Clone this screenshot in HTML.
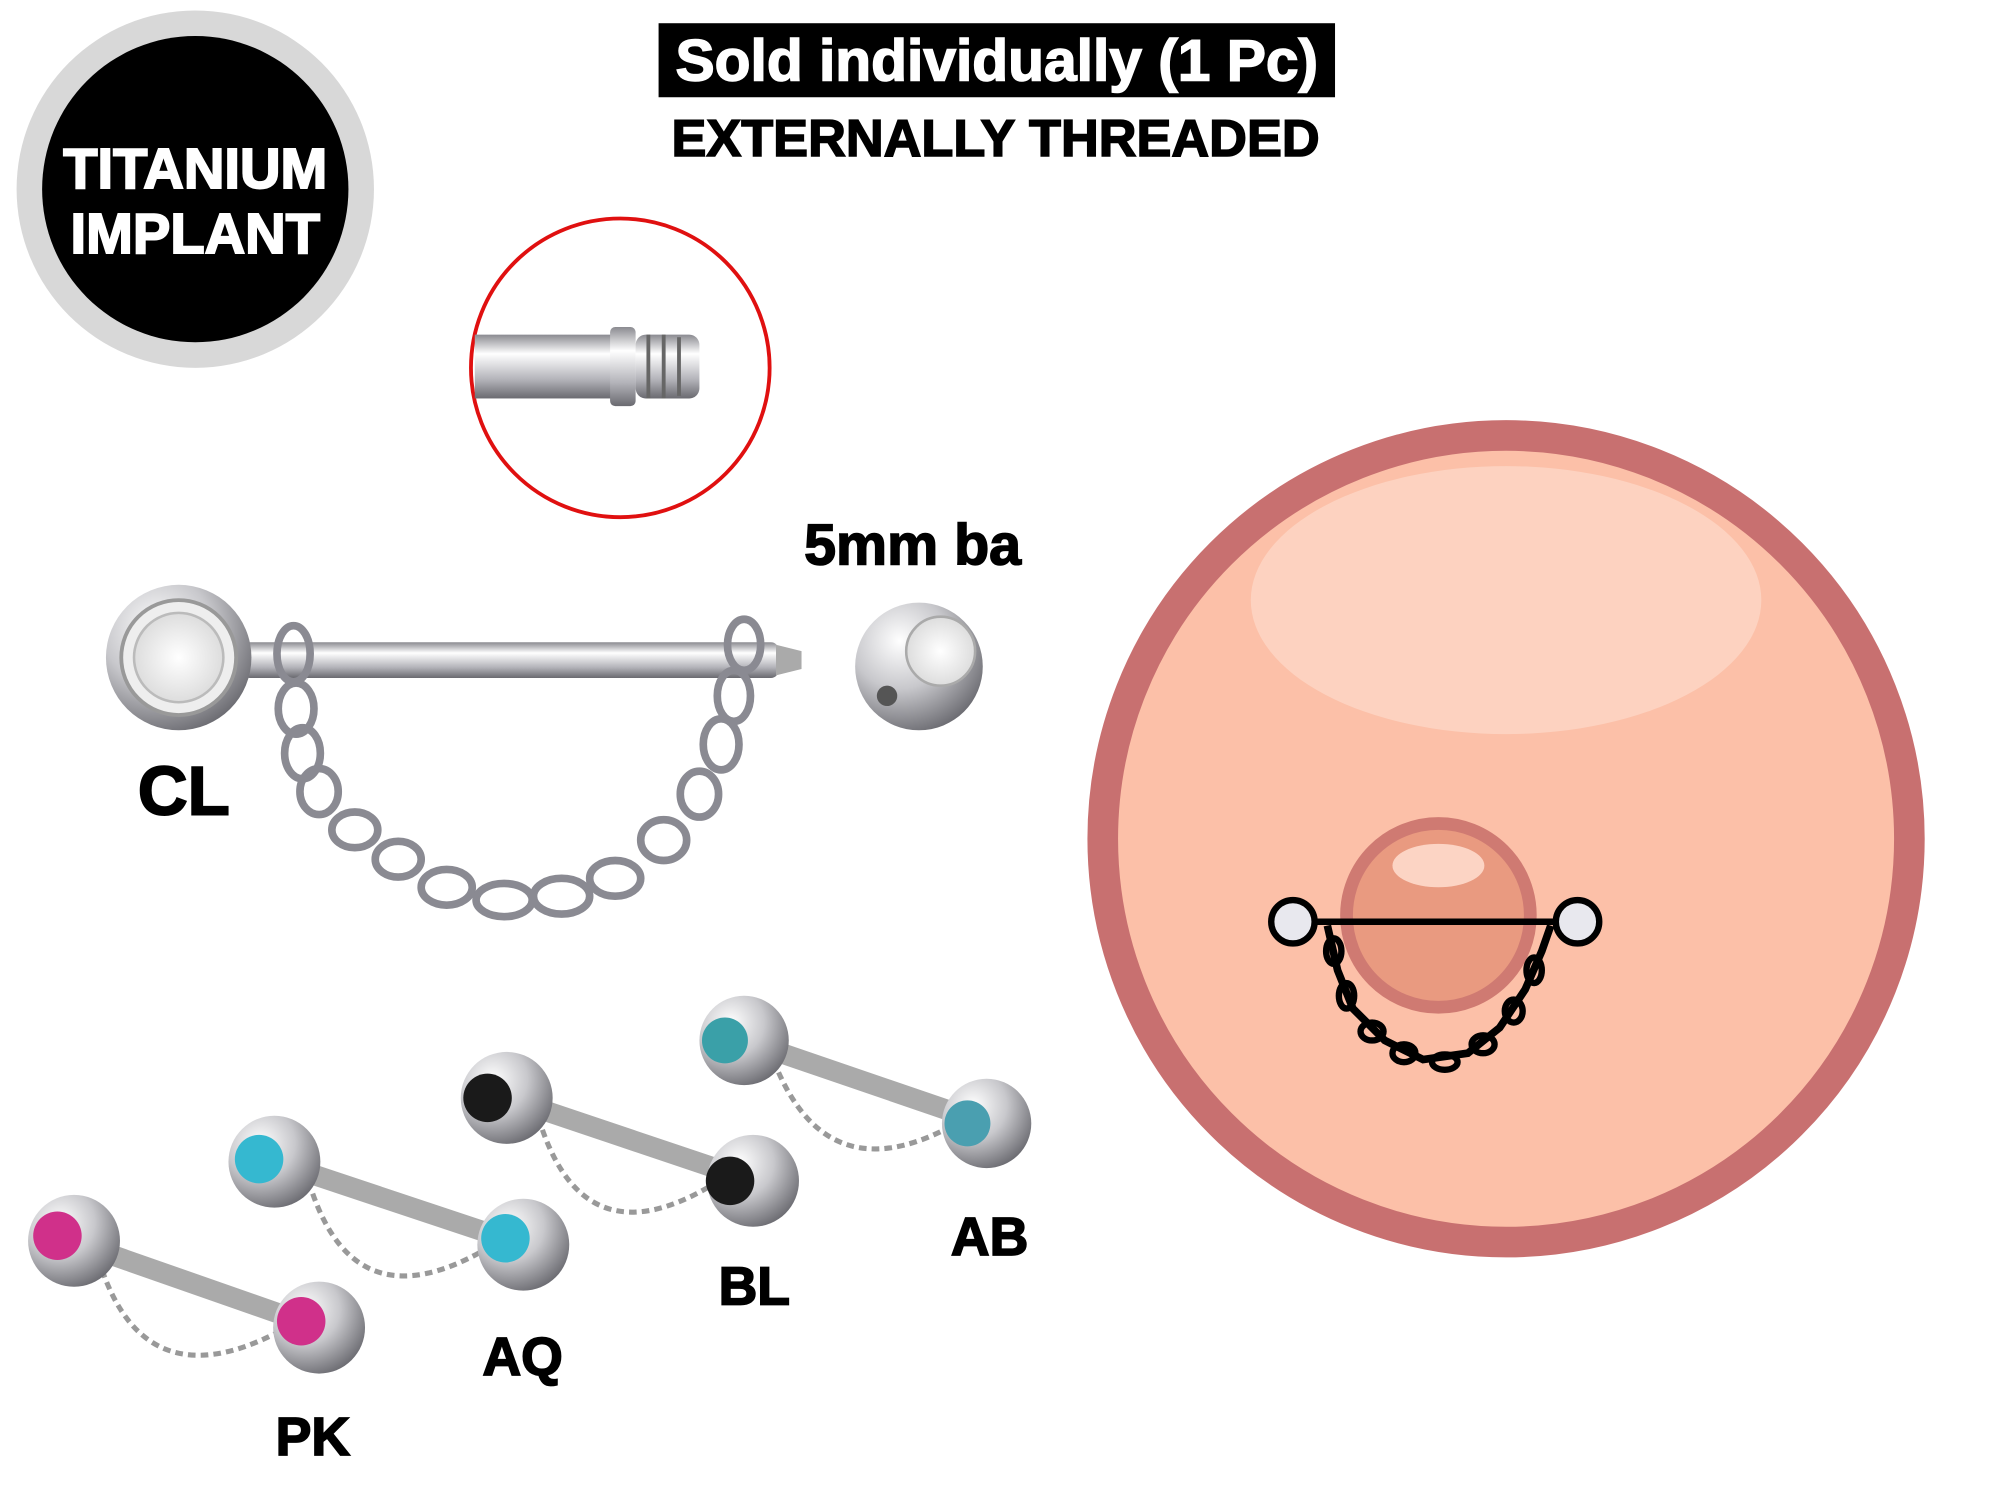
<!DOCTYPE html>
<html><head><meta charset="utf-8"><style>
html,body{margin:0;padding:0;background:#fff;}
svg{display:block;}
text{font-family:"Liberation Sans","DejaVu Sans",sans-serif;font-weight:bold;}
</style></head><body>
<svg width="2000" height="1504" viewBox="0 0 1567 1178" xmlns="http://www.w3.org/2000/svg">
<defs>
<radialGradient id="steel" cx="35%" cy="30%" r="75%">
<stop offset="0" stop-color="#ffffff"/><stop offset="0.5" stop-color="#c8c8cc"/><stop offset="1" stop-color="#6c6c72"/>
</radialGradient>
<linearGradient id="bar" x1="0" y1="0" x2="0" y2="1">
<stop offset="0" stop-color="#8a8a90"/><stop offset="0.3" stop-color="#ffffff"/><stop offset="0.7" stop-color="#b4b4ba"/><stop offset="1" stop-color="#6a6a70"/>
</linearGradient>
<radialGradient id="gem" cx="50%" cy="50%" r="50%">
<stop offset="0" stop-color="#fff"/><stop offset="1" stop-color="#ddd"/>
</radialGradient>
</defs>
<rect width="1567" height="1178" fill="#fff"/>

<!-- Titanium badge -->
<circle cx="153" cy="148" r="140" fill="#d8d8d8"/>
<circle cx="153" cy="148" r="120" fill="#000"/>
<text x="153" y="147" font-size="44" fill="#fff" stroke="#fff" stroke-width="1.5" text-anchor="middle">TITANIUM</text>
<text x="153" y="198" font-size="44" fill="#fff" stroke="#fff" stroke-width="1.5" text-anchor="middle">IMPLANT</text>

<!-- header -->
<rect x="516" y="18" width="530" height="58" fill="#000"/>
<text x="781" y="63" font-size="46" fill="#fff" stroke="#fff" stroke-width="1.2" text-anchor="middle">Sold individually (1 Pc)</text>
<text x="780" y="122" font-size="41" fill="#000" stroke="#000" stroke-width="1.2" text-anchor="middle">EXTERNALLY THREADED</text>

<!-- zoom circle -->
<circle cx="486" cy="288" r="117" fill="#fff" stroke="#e01010" stroke-width="3"/>
<rect x="372" y="262" width="110" height="50" fill="url(#bar)"/>
<rect x="478" y="256" width="20" height="62" rx="4" fill="url(#bar)"/>
<rect x="498" y="262" width="50" height="50" rx="8" fill="url(#bar)"/>
<g stroke="#666" stroke-width="3"><line x1="508" y1="262" x2="508" y2="312"/><line x1="520" y1="262" x2="520" y2="312"/><line x1="532" y1="264" x2="532" y2="310"/></g>

<!-- CL barbell -->
<text x="630" y="442" font-size="45" fill="#000" stroke="#000" stroke-width="1.2">5mm ba</text>
<rect x="190" y="503" width="420" height="28" rx="6" fill="url(#bar)"/>
<path d="M608 505 L628 510 L628 524 L608 529Z" fill="#aaa"/>
<circle cx="140" cy="515" r="57" fill="url(#steel)"/>
<circle cx="140" cy="515" r="45" fill="#eee" stroke="#999" stroke-width="3"/>
<circle cx="140" cy="515" r="35" fill="url(#gem)" stroke="#bbb" stroke-width="2"/>
<circle cx="720" cy="522" r="50" fill="url(#steel)"/>
<circle cx="737" cy="510" r="27" fill="url(#gem)" stroke="#aaa" stroke-width="2"/>
<circle cx="695" cy="545" r="8" fill="#555"/>
<g fill="none" stroke="#8a8a92" stroke-width="6">
<ellipse cx="230" cy="512" rx="13" ry="22"/>
<ellipse cx="232" cy="555" rx="14" ry="20"/>
<ellipse cx="237" cy="590" rx="14" ry="20"/>
<ellipse cx="250" cy="620" rx="15" ry="18"/>
<ellipse cx="278" cy="650" rx="18" ry="14"/>
<ellipse cx="312" cy="673" rx="18" ry="14"/>
<ellipse cx="350" cy="695" rx="20" ry="14"/>
<ellipse cx="395" cy="705" rx="22" ry="13"/>
<ellipse cx="440" cy="702" rx="22" ry="14"/>
<ellipse cx="482" cy="688" rx="20" ry="14"/>
<ellipse cx="520" cy="658" rx="18" ry="16"/>
<ellipse cx="548" cy="622" rx="15" ry="18"/>
<ellipse cx="565" cy="583" rx="14" ry="20"/>
<ellipse cx="575" cy="545" rx="13" ry="20"/>
<ellipse cx="583" cy="505" rx="13" ry="20"/>
</g>
<text x="108" y="638" font-size="54" fill="#000" stroke="#000" stroke-width="1.5">CL</text>

<!-- small barbells -->
<g>
<line x1="583" y1="815" x2="773" y2="880" stroke="#aaa" stroke-width="16"/>
<path d="M610 840 Q650 930 740 885" fill="none" stroke="#999" stroke-width="4" stroke-dasharray="6 4"/>
<circle cx="583" cy="815" r="35" fill="url(#steel)"/><circle cx="568" cy="815" r="18" fill="#3aa0a8"/>
<circle cx="773" cy="880" r="35" fill="url(#steel)"/><circle cx="758" cy="880" r="18" fill="#4a9fb0"/>
<line x1="397" y1="860" x2="590" y2="925" stroke="#aaa" stroke-width="16"/>
<path d="M425 885 Q460 985 555 930" fill="none" stroke="#999" stroke-width="4" stroke-dasharray="6 4"/>
<circle cx="397" cy="860" r="36" fill="url(#steel)"/><circle cx="382" cy="860" r="19" fill="#1a1a1a"/>
<circle cx="590" cy="925" r="36" fill="url(#steel)"/><circle cx="572" cy="925" r="19" fill="#1a1a1a"/>
<line x1="215" y1="910" x2="410" y2="975" stroke="#aaa" stroke-width="16"/>
<path d="M245 935 Q280 1035 378 980" fill="none" stroke="#999" stroke-width="4" stroke-dasharray="6 4"/>
<circle cx="215" cy="910" r="36" fill="url(#steel)"/><circle cx="203" cy="908" r="19" fill="#35b8d0"/>
<circle cx="410" cy="975" r="36" fill="url(#steel)"/><circle cx="396" cy="970" r="19" fill="#35b8d0"/>
<line x1="50" y1="970" x2="250" y2="1040" stroke="#aaa" stroke-width="16"/>
<path d="M80 995 Q115 1095 215 1045" fill="none" stroke="#999" stroke-width="4" stroke-dasharray="6 4"/>
<circle cx="58" cy="972" r="36" fill="url(#steel)"/><circle cx="45" cy="968" r="19" fill="#d0308a"/>
<circle cx="250" cy="1040" r="36" fill="url(#steel)"/><circle cx="236" cy="1035" r="19" fill="#d0308a"/>
</g>
<text x="745" y="983" font-size="42" fill="#000" stroke="#000" stroke-width="1.3">AB</text>
<text x="563" y="1022" font-size="42" fill="#000" stroke="#000" stroke-width="1.3">BL</text>
<text x="378" y="1077" font-size="42" fill="#000" stroke="#000" stroke-width="1.3">AQ</text>
<text x="216" y="1140" font-size="42" fill="#000" stroke="#000" stroke-width="1.3">PK</text>

<!-- big circle -->
<circle cx="1180" cy="657" r="316" fill="#fcc0a8" stroke="#c87070" stroke-width="24"/>
<ellipse cx="1180" cy="470" rx="200" ry="105" fill="#fdd2c0"/>
<circle cx="1127" cy="717" r="72" fill="#e99a80" stroke="#cf7a72" stroke-width="10"/>
<ellipse cx="1127" cy="678" rx="36" ry="17" fill="#fcd4c4"/>
<line x1="1013" y1="722" x2="1236" y2="722" stroke="#000" stroke-width="5"/>
<g fill="none" stroke="#000" stroke-width="6">
<path d="M1040 725 L1048 760 L1060 790 L1085 815 L1115 830 L1150 825 L1175 805 L1195 775 L1208 745 L1215 725"/>
</g>
<g fill="none" stroke="#000" stroke-width="5">
<ellipse cx="1045" cy="745" rx="6" ry="10"/><ellipse cx="1055" cy="780" rx="6" ry="10"/>
<ellipse cx="1075" cy="808" rx="9" ry="7"/><ellipse cx="1100" cy="825" rx="9" ry="7"/>
<ellipse cx="1132" cy="832" rx="10" ry="6"/><ellipse cx="1162" cy="818" rx="9" ry="7"/>
<ellipse cx="1186" cy="792" rx="7" ry="9"/><ellipse cx="1202" cy="760" rx="6" ry="10"/>
</g>
<circle cx="1013" cy="722" r="17" fill="#e8e8ee" stroke="#000" stroke-width="5"/>
<circle cx="1236" cy="722" r="17" fill="#e8e8ee" stroke="#000" stroke-width="5"/>
</svg>
</body></html>
